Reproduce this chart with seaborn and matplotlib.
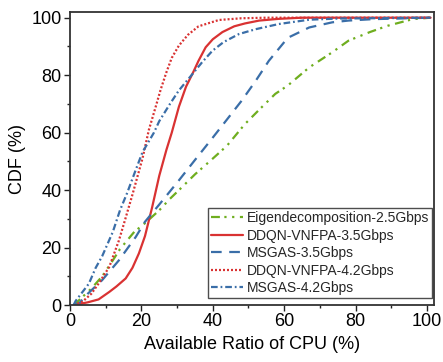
import numpy as np
import pandas as pd
import matplotlib
matplotlib.use("Agg")
import matplotlib.pyplot as plt
import seaborn as sns
from matplotlib.ticker import MultipleLocator

sns.set_theme(style="white")
plt.rcParams['font.family'] = ['Liberation Sans', 'DejaVu Sans']

# Data
eig_x = [1, 2.5, 6, 9, 12, 14, 18, 21, 25, 28, 30.5, 35, 40, 44, 49, 53, 57.5, 61, 67, 73.5, 78, 84, 89, 96, 101]
eig_y = [0, 1.7, 5.8, 10, 15.6, 19.5, 25.5, 28.5, 33, 37, 40, 45.5, 51, 55.5, 63, 68, 73.5, 76.4, 82.7, 88, 92, 95, 97.2, 99.5, 100]

ddqn35_x = [1, 5, 8, 11, 13, 15.6, 17.5, 19.3, 21, 23, 25, 27, 28.5, 30.5, 32.5, 34.5, 36, 38, 40, 42.7, 46, 49, 53, 58.5, 65, 101]
ddqn35_y = [0, 1, 2, 4.6, 6.5, 9.3, 13, 18, 24, 34, 45, 54, 60, 69, 76, 81, 85, 89.7, 92.5, 95, 97, 98, 99, 99.6, 100, 100]

ms35_x = [1, 2.5, 5, 9, 13.7, 18.4, 21, 25, 30.5, 35, 40, 43.6, 48, 52, 55.7, 61, 67, 73.5, 78, 85, 101]
ms35_y = [0, 0.6, 4, 8.7, 15.6, 23.7, 29, 35, 43.4, 50.5, 58.3, 64, 71, 78, 85, 93, 96.6, 98.4, 99, 99.5, 100]

ddqn42_x = [1, 3.5, 6, 8, 11, 13.7, 15.5, 17.5, 20.3, 22.1, 24, 25.4, 27, 28.5, 30.5, 33, 36, 41.7, 48, 55, 101]
ddqn42_y = [0, 1.2, 4, 7.5, 13.3, 22.5, 30, 38.5, 51, 61, 69, 75, 81, 86, 90.3, 94, 97, 99.2, 99.8, 100, 100]

ms42_x = [1, 1.6, 5.3, 7.2, 9, 12, 14, 16, 18.4, 20.3, 23.5, 25, 28, 30.5, 34.3, 37, 39.9, 43, 47.3, 52, 58.5, 67, 75, 101]
ms42_y = [0, 1.5, 7.5, 13, 17, 25.5, 33, 39, 47, 53.2, 60, 64, 70, 74.7, 80.4, 84.5, 88.5, 91.5, 94.3, 96, 97.8, 99.3, 99.7, 100]

labels = ["Eigendecomposition-2.5Gbps", "DDQN-VNFPA-3.5Gbps", "MSGAS-3.5Gbps",
          "DDQN-VNFPA-4.2Gbps", "MSGAS-4.2Gbps"]
series = [(eig_x, eig_y), (ddqn35_x, ddqn35_y), (ms35_x, ms35_y),
          (ddqn42_x, ddqn42_y), (ms42_x, ms42_y)]
colors = ["#6fae1f", "#d93232", "#3a6ea8", "#d93232", "#3a6ea8"]
dashes = [(0, (4, 2, 1, 2.5, 1, 2.5)), "-", (0, (4.8, 3.4)), (0, (0.9, 0.9)),
          (0, (3, 1.3, 0.8, 1.3))]

fig, ax = plt.subplots(figsize=(4.43, 3.62), dpi=100)

for (xs, ys), lab, c, ls in zip(series, labels, colors, dashes):
    df = pd.DataFrame({"x": xs, "y": ys})
    sns.lineplot(data=df, x="x", y="y", ax=ax, color=c, linestyle=ls,
                 linewidth=1.6, label=lab)

ax.set_xlim(0, 102)
ax.set_ylim(0, 102)
ax.xaxis.set_major_locator(MultipleLocator(20))
ax.xaxis.set_minor_locator(MultipleLocator(10))
ax.yaxis.set_major_locator(MultipleLocator(20))
ax.yaxis.set_minor_locator(MultipleLocator(10))
ax.tick_params(axis='both', which='major', direction='out', length=4, width=1,
               labelsize=13, bottom=True, left=True, colors='#222222', pad=2)
ax.tick_params(axis='both', which='minor', direction='out', length=2.5, width=1,
               bottom=True, left=True, colors='#222222')
for lbl in ax.get_xticklabels() + ax.get_yticklabels():
    lbl.set_color('black')
for s in ax.spines.values():
    s.set_color('#333333')
    s.set_linewidth(1.3)

ax.set_xlabel("Available Ratio of CPU (%)", fontsize=13, color='black', labelpad=4)
ax.set_ylabel("CDF (%)", fontsize=13, color='black', labelpad=4)

leg = ax.legend(loc='lower right', bbox_to_anchor=(0.9945, 0.024), fontsize=10,
                frameon=True, fancybox=False, edgecolor='#222222',
                borderpad=0.2, labelspacing=0.26, handlelength=2.3,
                handletextpad=0.3, borderaxespad=0.0)
leg.get_frame().set_linewidth(1.0)

fig.subplots_adjust(left=0.158, right=0.98, top=0.967, bottom=0.157)
fig.savefig("out.png", dpi=100)
